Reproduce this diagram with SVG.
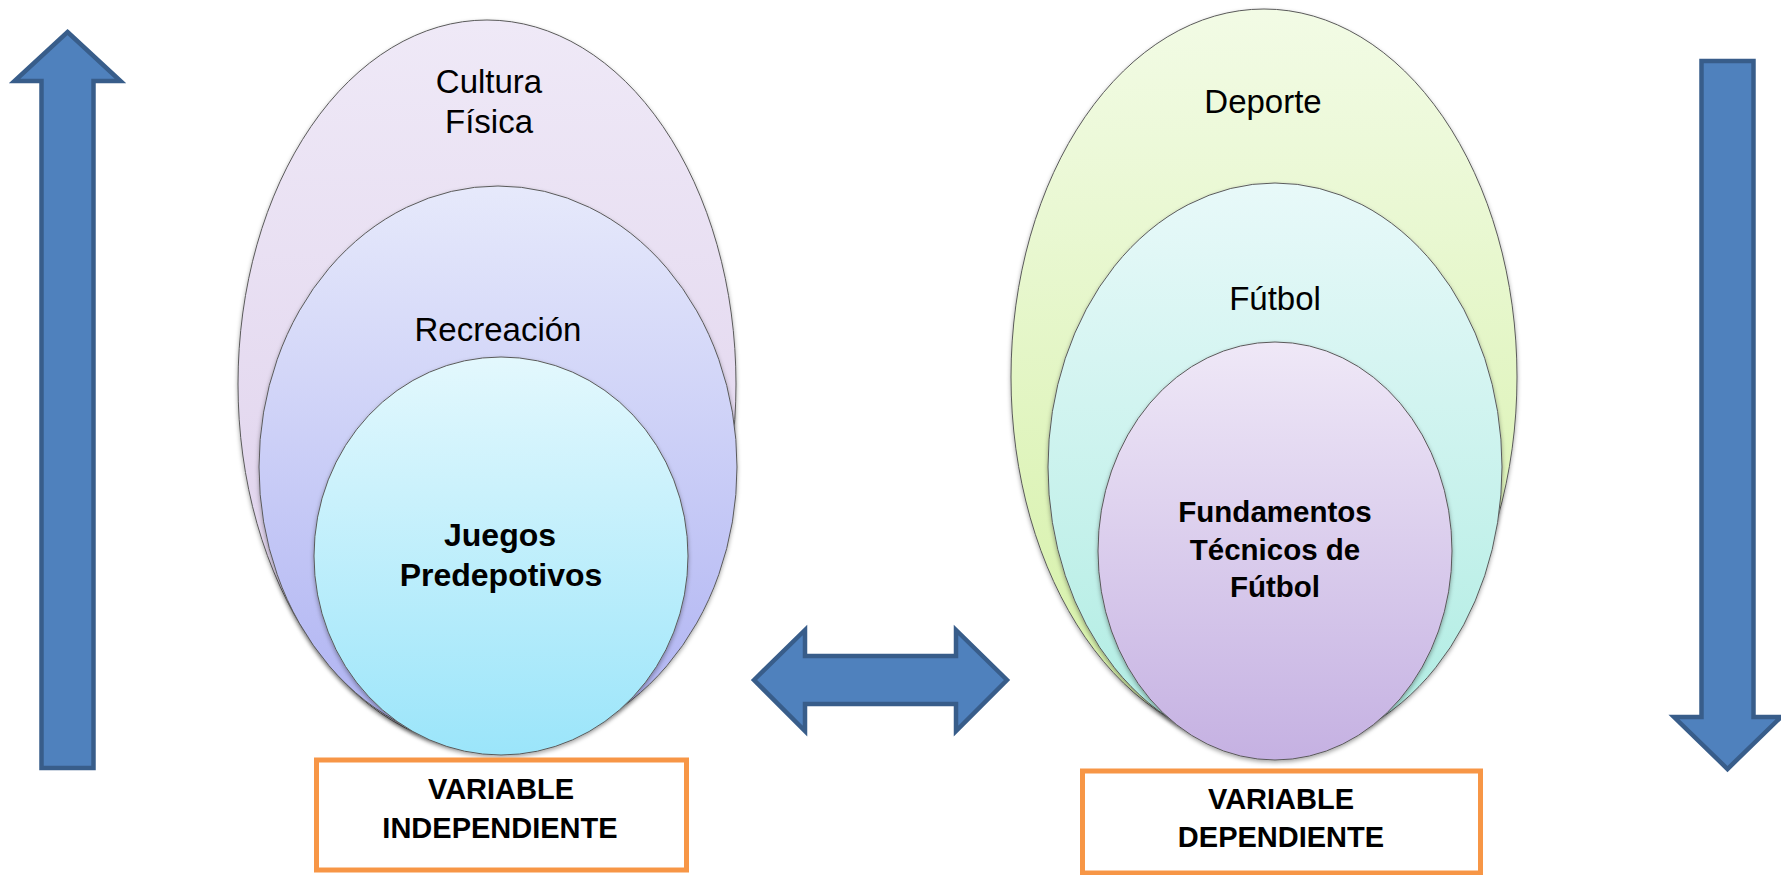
<svg xmlns="http://www.w3.org/2000/svg" width="1781" height="875" viewBox="0 0 1781 875">
<defs>
<linearGradient id="gL1" x1="0" y1="0" x2="0" y2="1"><stop offset="0" stop-color="#EFE9F7"/><stop offset="1" stop-color="#DCCDEA"/></linearGradient>
<linearGradient id="gL2" x1="0" y1="0" x2="0" y2="1"><stop offset="0" stop-color="#E6E9FB"/><stop offset="1" stop-color="#ADB1F2"/></linearGradient>
<linearGradient id="gL3" x1="0" y1="0" x2="0" y2="1"><stop offset="0" stop-color="#E3F8FD"/><stop offset="1" stop-color="#9BE5FA"/></linearGradient>
<linearGradient id="gR1" x1="0" y1="0" x2="0" y2="1"><stop offset="0" stop-color="#F2FBE5"/><stop offset="1" stop-color="#D4F0A4"/></linearGradient>
<linearGradient id="gR2" x1="0" y1="0" x2="0" y2="1"><stop offset="0" stop-color="#E8F9F9"/><stop offset="1" stop-color="#AEECE2"/></linearGradient>
<linearGradient id="gR3" x1="0" y1="0" x2="0" y2="1"><stop offset="0" stop-color="#EFE8F7"/><stop offset="1" stop-color="#C5B1E2"/></linearGradient>
<filter id="sh" x="-10%" y="-10%" width="120%" height="120%"><feDropShadow dx="0" dy="2" stdDeviation="2" flood-color="#000" flood-opacity="0.35"/></filter>
</defs>
<style>
.el{stroke:#5A5A5A;stroke-width:1;filter:url(#sh)}
.t{font-family:"Liberation Sans",Arial,sans-serif;font-size:33px;fill:#000;text-anchor:middle}
.tb{font-family:"Liberation Sans",Arial,sans-serif;font-weight:bold;fill:#000;text-anchor:middle}
.box{fill:#FFFFFF;stroke:#F79646;stroke-width:5}
.bt{font-family:"Liberation Sans",Arial,sans-serif;font-weight:bold;font-size:29px;fill:#000;text-anchor:middle}
.arr{fill:#4F81BD;stroke:#385D8A;stroke-width:4.5;stroke-linejoin:miter}
</style>
<rect width="1781" height="875" fill="#FFFFFF"/>
<g id="connectors">
<polygon class="arr" points="67.5,32 120.5,81 93.5,81 93.5,768 41.5,768 41.5,81 14.5,81"/>
<polygon class="arr" points="1701.5,61 1753.5,61 1753.5,717 1781,717 1727.5,769 1674,717 1701.5,717"/>
<polygon class="arr" points="754,680 805,630 805,656 956,656 956,630 1007,680 956,731 956,704 805,704 805,731"/>
</g>
<g id="node-cultura">
<ellipse class="el" cx="487" cy="384" rx="249" ry="364" fill="url(#gL1)"/>
<text class="t" x="489" y="93">Cultura</text>
<text class="t" x="489" y="133">Física</text>
</g>
<g id="node-recreacion">
<ellipse class="el" cx="498" cy="467" rx="239" ry="281" fill="url(#gL2)"/>
<text class="t" x="498" y="341">Recreación</text>
</g>
<g id="node-juegos">
<ellipse class="el" cx="501" cy="556" rx="187" ry="199" fill="url(#gL3)"/>
<text class="tb" font-size="32" x="500" y="546">Juegos</text>
<text class="tb" font-size="32" x="501" y="586">Predepotivos</text>
</g>
<g id="node-deporte">
<ellipse class="el" cx="1264" cy="377" rx="253" ry="368" fill="url(#gR1)"/>
<text class="t" x="1263" y="113">Deporte</text>
</g>
<g id="node-futbol">
<ellipse class="el" cx="1275" cy="467" rx="227" ry="284" fill="url(#gR2)"/>
<text class="t" x="1275" y="310">Fútbol</text>
</g>
<g id="node-fundamentos">
<ellipse class="el" cx="1275" cy="551" rx="177" ry="209" fill="url(#gR3)"/>
<text class="tb" font-size="29.5" x="1275" y="522">Fundamentos</text>
<text class="tb" font-size="29.5" x="1275" y="560">Técnicos de</text>
<text class="tb" font-size="29.5" x="1275" y="597">Fútbol</text>
</g>
<g id="node-var-indep">
<rect class="box" x="316.5" y="760" width="370" height="110"/>
<text class="bt" x="501" y="799">VARIABLE</text>
<text class="bt" x="500" y="838">INDEPENDIENTE</text>
</g>
<g id="node-var-dep">
<rect class="box" x="1082.5" y="771" width="398" height="102"/>
<text class="bt" x="1281" y="809">VARIABLE</text>
<text class="bt" x="1281" y="847">DEPENDIENTE</text>
</g>
</svg>
